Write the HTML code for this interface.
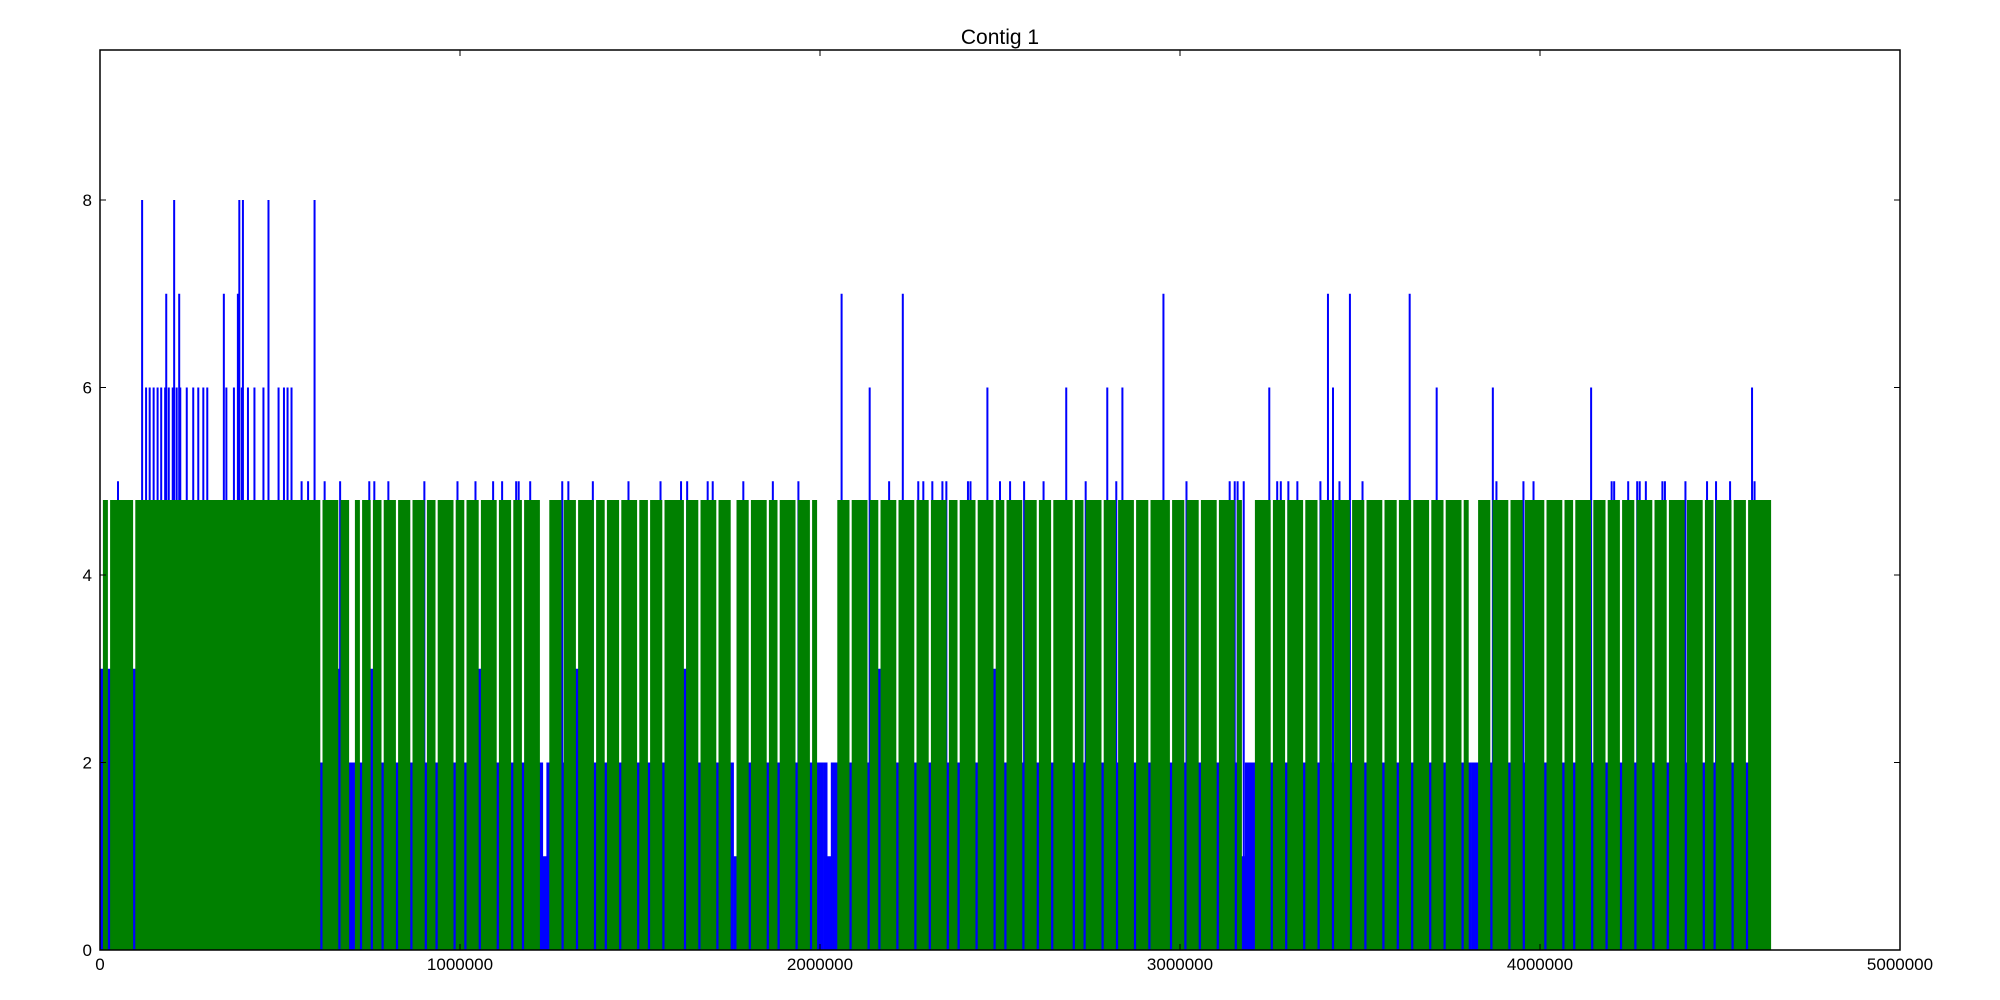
<!DOCTYPE html>
<html><head><meta charset="utf-8"><style>
html,body{margin:0;padding:0;background:#fff;width:2000px;height:1000px;overflow:hidden}
svg text{font-family:"Liberation Sans","DejaVu Sans",sans-serif;fill:#000}
</style></head><body>
<svg id="chart" width="2000" height="1000" viewBox="0 0 2000 1000" xmlns="http://www.w3.org/2000/svg">
<rect width="2000" height="1000" fill="#fff"/>
<text x="1000" y="44" font-size="21" text-anchor="middle">Contig 1</text>
<g id="blue"></g>
<g id="spikes"></g>
<g id="green"></g>
<g id="axes"></g>
</svg>
<script>
const binSize = 10000;
const greenLevel = 4.8;
const greenBins = [
0,1,0,1,1,1,1,1,1,0,1,1,1,1,1,1,1,1,1,1,
1,1,1,1,1,1,1,1,1,1,1,1,1,1,1,1,1,1,1,1,
1,1,1,1,1,1,1,1,1,1,1,1,1,1,1,1,1,1,1,1,
1,0,1,1,1,1,0,1,1,0,0,1,0,1,1,0,1,1,0,1,
1,1,0,1,1,1,0,1,1,1,0,1,1,0,1,1,1,1,0,1,
1,0,1,1,1,0,1,1,1,1,0,1,1,1,0,1,1,0,1,1,
1,1,0,0,0,1,1,1,0,1,1,1,0,1,1,1,1,0,1,1,
0,1,1,1,0,1,1,1,1,0,1,1,0,1,1,1,0,1,1,1,
1,1,0,1,1,1,0,1,1,1,1,0,1,1,1,0,0,1,1,1,
0,1,1,1,1,0,1,1,0,1,1,1,1,0,1,1,1,0,1,0,
0,0,0,0,0,1,1,1,0,1,1,1,1,0,1,1,0,1,1,1,
1,0,1,1,1,1,0,1,1,1,0,1,1,1,1,0,1,1,0,1,
1,1,1,0,1,1,1,1,0,1,1,0,1,1,1,1,0,1,1,1,
0,1,1,1,0,1,1,1,1,1,0,1,1,0,1,1,1,1,0,1,
1,1,0,1,1,1,1,0,1,1,1,0,1,1,1,1,1,0,1,1,
1,0,1,1,1,0,1,1,1,1,0,1,1,1,1,0,1,0,0,0,
0,1,1,1,1,0,1,1,1,0,1,1,1,1,0,1,1,1,0,1,
1,1,0,1,1,1,1,0,1,1,1,0,1,1,1,1,0,1,1,1,
0,1,1,1,0,1,1,1,1,0,1,1,1,0,1,1,1,1,0,1,
0,0,0,1,1,1,0,1,1,1,1,0,1,1,1,0,1,1,1,1,
1,0,1,1,1,1,0,1,1,0,1,1,1,1,0,1,1,1,0,1,
1,1,0,1,1,1,0,1,1,1,1,0,1,1,1,0,1,1,1,1,
0,1,1,1,1,0,1,1,0,1,1,1,1,0,1,1,1,0,1,1,
1,1,1,1];
const blueBins = [
3,2,3,2,2,2,2,2,2,3,2,2,2,2,2,2,2,2,2,2,
2,2,2,2,2,2,2,2,2,2,2,2,2,2,2,2,2,2,2,2,
2,2,2,2,2,2,2,2,2,2,2,2,2,2,2,2,2,2,2,2,
2,2,2,2,2,2,3,2,2,2,2,2,2,2,2,3,2,2,2,2,
2,2,2,2,2,2,2,2,2,3,2,2,2,2,2,2,2,2,2,2,
2,2,2,2,2,3,2,2,2,2,2,2,2,2,2,2,2,2,2,2,
2,2,2,1,2,2,2,2,2,2,2,2,3,2,2,2,2,2,2,2,
2,2,2,2,2,2,2,2,2,2,2,2,2,2,2,2,2,2,2,2,
2,2,3,2,2,2,2,2,2,2,2,2,2,2,2,2,1,2,2,2,
2,2,2,2,2,2,2,2,2,2,2,2,2,2,2,2,2,2,2,2,
2,2,1,2,2,2,2,2,2,2,2,2,2,2,2,2,3,2,2,2,
2,2,2,2,2,2,2,2,2,2,2,2,2,2,2,2,2,2,2,2,
2,2,2,2,2,2,2,2,3,2,2,2,2,2,2,2,2,2,2,2,
2,2,2,2,2,2,2,2,2,2,2,2,2,2,2,2,2,2,2,2,
2,2,2,2,2,2,2,2,2,2,2,2,2,2,2,2,2,2,2,2,
2,2,2,2,2,2,2,2,2,2,2,2,2,2,2,2,2,1,2,2,
2,2,2,2,2,2,2,2,2,2,2,2,2,2,2,2,2,2,2,2,
2,2,2,2,2,2,2,2,2,2,2,2,2,2,2,2,2,2,2,2,
2,2,2,2,2,2,2,2,2,2,2,2,2,2,2,2,2,2,2,2,
2,2,2,2,2,2,2,2,2,2,2,2,2,2,2,2,2,2,2,2,
2,2,2,2,2,2,2,2,2,2,2,2,2,2,2,2,2,2,2,2,
2,2,2,2,2,2,2,2,2,2,2,2,2,2,2,2,2,2,2,2,
2,2,2,2,2,2,2,2,2,2,2,2,2,2,2,2,2,2,2,2,
2,2,2,2];
const spikePos = [117000,206000,387000,397000,468000,596000,
184000,220000,344000,383000,2060000,2230000,2954000,3411000,3472000,3638000,
128000,138000,149000,160000,170000,181000,191000,202000,213000,223000,241000,259000,273000,287000,298000,351000,372000,394000,411000,429000,454000,496000,511000,521000,532000,2138000,2465000,2684000,2798000,2840000,3248000,3425000,3713000,3869000,4142000,4589000,
50000,560000,578000,624000,667000,748000,762000,801000,901000,993000,1043000,1092000,1117000,1156000,1163000,1195000,1284000,1301000,1369000,1468000,1557000,1614000,1631000,1688000,1702000,1787000,1869000,1940000,2192000,2273000,2287000,2312000,2340000,2351000,2411000,2418000,2500000,2528000,2567000,2621000,2738000,2823000,3018000,3138000,3152000,3160000,3177000,3270000,3280000,3301000,3326000,3390000,3443000,3507000,3879000,3954000,3982000,4199000,4206000,4245000,4270000,4277000,4294000,4340000,4347000,4404000,4464000,4489000,4528000,4596000];
const spikeVal = [8,8,8,8,8,8,
7,7,7,7,7,7,7,7,7,7,
6,6,6,6,6,6,6,6,6,6,6,6,6,6,6,6,6,6,6,6,6,6,6,6,6,6,6,6,6,6,6,6,6,6,6,6,
5,5,5,5,5,5,5,5,5,5,5,5,5,5,5,5,5,5,5,5,5,5,5,5,5,5,5,5,5,5,5,5,5,5,5,5,5,5,5,5,5,5,5,5,5,5,5,5,5,5,5,5,5,5,5,5,5,5,5,5,5,5,5,5,5,5,5,5,5,5];
const xTicks = [0,1000000,2000000,3000000,4000000,5000000];
const xTickLabels = ["0","1000000","2000000","3000000","4000000","5000000"];
const yTicks = [0,2,4,6,8];
const yTickLabels = ["0","2","4","6","8"];

const L=100,R=1900,T=50,B=950,XMAX=5000000,YMAX=9.6;
const sx=v=>L+v/XMAX*(R-L);
const sy=v=>B-v/YMAX*(B-T);
const NS="http://www.w3.org/2000/svg";
function mk(tag,parent,attrs){const e=document.createElementNS(NS,tag);for(const k in attrs)e.setAttribute(k,attrs[k]);parent.appendChild(e);return e;}
const gB=document.getElementById('blue'),gS=document.getElementById('spikes'),gG=document.getElementById('green'),gA=document.getElementById('axes');
blueBins.forEach((v,i)=>{
  const x0=sx(i*binSize),x1=sx((i+1)*binSize);
  const r=mk('rect',gB,{x:x0,y:sy(v),width:x1-x0+0.3,height:sy(0)-sy(v),fill:'#0000ff'});
  
  
});
spikePos.forEach((p,i)=>{
  const x=sx(p);
  const r=mk('rect',gS,{x:x-1,y:sy(spikeVal[i]),width:2,height:sy(0)-sy(spikeVal[i]),fill:'#0000ff'});
  
  
});
greenBins.forEach((g,i)=>{
  if(!g)return;
  const x0=sx(i*binSize),x1=sx((i+1)*binSize);
  const v=g*greenLevel;
  const r=mk('rect',gG,{x:Math.max(L,x0-0.7),y:sy(v),width:x1-x0+1.4,height:sy(0)-sy(v),fill:'#008000'});
  
  
});
const frame=mk('rect',gA,{x:L,y:T,width:R-L,height:B-T,fill:'none',stroke:'#000','stroke-width':1.5});


xTicks.forEach((t,i)=>{
  const x=sx(t);
  mk('line',gA,{x1:x,x2:x,y1:B,y2:B-6,stroke:'#000','stroke-width':1});
  mk('line',gA,{x1:x,x2:x,y1:T,y2:T+6,stroke:'#000','stroke-width':1});
  const tx=mk('text',gA,{x:x,y:B+20,'font-size':17,'text-anchor':'middle'});
  tx.textContent=xTickLabels[i];
  
  
});
yTicks.forEach((t,i)=>{
  const y=sy(t);
  mk('line',gA,{x1:L,x2:L+6,y1:y,y2:y,stroke:'#000','stroke-width':1});
  mk('line',gA,{x1:R,x2:R-6,y1:y,y2:y,stroke:'#000','stroke-width':1});
  const tx=mk('text',gA,{x:L-8,y:y+6,'font-size':17,'text-anchor':'end'});
  tx.textContent=yTickLabels[i];
  
  
});
</script>
</body></html>
